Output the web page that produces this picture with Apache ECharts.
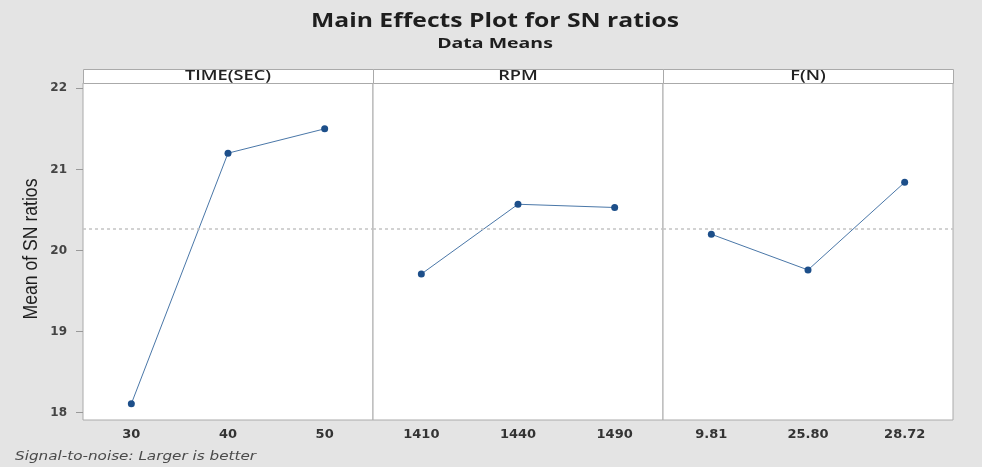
<!DOCTYPE html>
<html style="height: 100%">
<head>
  <meta charset="utf-8">
</head>
<body style="height: 100%; margin: 0; background: #e4e4e4">
  <div id="container" style="width: 982px; height: 467px"></div>
  <script src="https://cdn.jsdelivr.net/npm/echarts/dist/echarts.min.js"></script>
  <script type="text/javascript">
    // factor panels
    var panelNames = ['TIME(SEC)', 'RPM', 'F(N)'];
    var timeLevels = ['30', '40', '50'];
    var rpmLevels = ['1410', '1440', '1490'];
    var forceLevels = ['9.81', '25.80', '28.72'];
    // mean SN ratios
    var timeMeans = [18.11, 21.20, 21.50];
    var rpmMeans = [19.71, 20.57, 20.53];
    var forceMeans = [20.20, 19.76, 20.84];
    var overallMean = 20.27;
    var yTicks = [18, 19, 20, 21, 22];

    var levels = [timeLevels, rpmLevels, forceLevels];
    var means = [timeMeans, rpmMeans, forceMeans];
    var lefts = [83, 373, 663];
    var panelW = 290;

    var dom = document.getElementById('container');
    var myChart = echarts.init(dom);

    var grids = [], xAxes = [], yAxes = [], series = [], graphics = [];

    // the source image is stretched sideways, so the headings get a scaleX
    graphics.push({
      type: 'text', x: 495, y: 22, scaleX: 1.3,
      style: { text: 'Main Effects Plot for SN ratios', align: 'center', verticalAlign: 'middle',
        fill: '#1e1e1e', font: 'bold 19px "Open Sans"' }
    });
    graphics.push({
      type: 'text', x: 495, y: 44, scaleX: 1.3,
      style: { text: 'Data Means', align: 'center', verticalAlign: 'middle',
        fill: '#1e1e1e', font: 'bold 15px "Open Sans"' }
    });

    for (var i = 0; i < 3; i++) {
      grids.push({
        left: lefts[i], top: 83, width: panelW, bottom: 47,
        show: true, backgroundColor: '#fff', borderColor: '#aaa', borderWidth: 1
      });
      xAxes.push({
        type: 'category', gridIndex: i, data: levels[i], boundaryGap: true,
        axisLine: { show: false }, axisTick: { show: false },
        axisLabel: { color: '#333', fontSize: 13, fontWeight: 'bold', margin: 8, fontFamily: 'DejaVu Sans' }
      });
      yAxes.push({
        type: 'value', gridIndex: i, min: 17.91, max: 22.065,
        splitLine: { show: false },
        axisLine: { show: false },
        axisTick: { show: i === 0, length: 7, customValues: yTicks, lineStyle: { color: '#999' } },
        axisLabel: { show: i === 0, customValues: yTicks, color: '#444', fontSize: 12, fontWeight: 'bold', margin: 16, fontFamily: 'DejaVu Sans' }
      });
      series.push({
        type: 'line', xAxisIndex: i, yAxisIndex: i, data: means[i],
        symbol: 'circle', symbolSize: 7,
        itemStyle: { color: '#1d4f8a' },
        lineStyle: { color: '#4a77a8', width: 1 },
        markLine: {
          silent: true, symbol: 'none', label: { show: false },
          lineStyle: { color: '#c4c4c4', type: [3, 3], width: 1.5 },
          data: [{ yAxis: overallMean }]
        }
      });
      graphics.push({
        type: 'rect', left: lefts[i], top: 69,
        shape: { width: panelW, height: 14 },
        style: { fill: '#fff', stroke: '#aaa', lineWidth: 1 }
      });
      graphics.push({
        type: 'text', x: lefts[i] + panelW / 2, y: 76.5, scaleX: 1.3,
        style: {
          text: panelNames[i], align: 'center', verticalAlign: 'middle',
          fill: '#222', font: '600 14px "Open Sans"'
        }
      });
    }

    graphics.push({
      type: 'text', x: 15, y: 457, scaleX: 1.17,
      style: { text: 'Signal-to-noise: Larger is better', verticalAlign: 'middle',
        fill: '#4a4a4a', font: 'italic 13px "DejaVu Sans"' }
    });

    graphics.push({
      type: 'text', x: 31, y: 249, rotation: Math.PI / 2, scaleX: 0.88,
      style: { text: 'Mean of SN ratios', align: 'center', verticalAlign: 'middle',
        fill: '#1e1e1e', font: '20px "Liberation Sans"' }
    });

    var option = {
      backgroundColor: '#e4e4e4',
      grid: grids,
      xAxis: xAxes,
      yAxis: yAxes,
      series: series,
      graphic: graphics
    };

    myChart.setOption(option, true);
  </script>
</body>
</html>
